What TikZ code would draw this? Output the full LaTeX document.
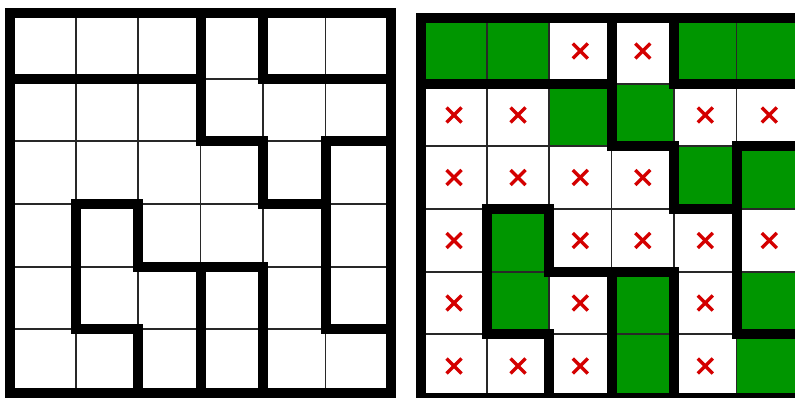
\documentclass[tikz,border=0pt]{standalone}
\usetikzlibrary{calc}
\definecolor{cellgreen}{RGB}{0,150,0}
\definecolor{xred}{RGB}{212,0,0}
\definecolor{thinline}{RGB}{40,40,40}
\tikzset{
  wall/.style={line width=10pt, black, line cap=rect, line join=miter},
  border/.style={line width=10pt, black, line join=miter},
  thin/.style={line width=1.6pt, thinline},
  greencell/.style={fill=cellgreen},
  xmark/.style={line width=3.3pt, xred}
}
\begin{document}
\begin{tikzpicture}[x=1pt,y=-1pt]
\useasboundingbox (0,0) rectangle (795,398);
\clip (0,0) rectangle (795,398);
\fill[white] (0,0) rectangle (795,398);
% grid coordinates
\foreach \i/\a in {0/0,1/66,2/128,3/190.5,4/253,5/315.5,6/381}{
  \foreach \j/\b in {0/0,1/66,2/128,3/191,4/254,5/316,6/380}{
    \coordinate (L-\i-\j) at (10+\a,13+\b);
    \coordinate (R-\i-\j) at (421+\a,18+\b);
  }
}
% green cells
\foreach \c/\r [evaluate=\c as \cc using int(\c+1), evaluate=\r as \rr using int(\r+1)] in
  {0/0,1/0,4/0,5/0,2/1,3/1,4/2,5/2,1/3,1/4,3/4,5/4,3/5,5/5}{
  \fill[greencell] (R-\c-\r) rectangle (R-\cc-\rr);
}
% thin grid lines
\foreach \g in {L,R}{
  \foreach \k in {1,...,5}{
    \draw[thin] (\g-\k-0) -- (\g-\k-6);
    \draw[thin] (\g-0-\k) -- (\g-6-\k);
  }
}
% red crosses
\foreach \c/\r [evaluate=\c as \cc using int(\c+1), evaluate=\r as \rr using int(\r+1)] in
  {2/0,3/0,0/1,1/1,4/1,5/1,0/2,1/2,2/2,3/2,0/3,2/3,3/3,4/3,5/3,0/4,2/4,4/4,0/5,1/5,2/5,4/5}{
  \coordinate (m) at ($(R-\c-\r)!0.5!(R-\cc-\rr)$);
  \draw[xmark] ($(m)+(-7.5,-7.5)$) -- ($(m)+(7.5,7.5)$);
  \draw[xmark] ($(m)+(-7.5,7.5)$) -- ($(m)+(7.5,-7.5)$);
}
% thick walls
\foreach \g in {L,R}{
  \draw[wall] (\g-0-1) -- (\g-3-1);
  \draw[wall] (\g-4-1) -- (\g-6-1);
  \draw[wall] (\g-4-0) -- (\g-4-1);
  \draw[wall] (\g-3-0) -- (\g-3-2) -- (\g-4-2) -- (\g-4-3) -- (\g-5-3);
  \draw[wall] (\g-6-2) -- (\g-5-2) -- (\g-5-5) -- (\g-6-5);
  \draw[wall] (\g-1-5) -- (\g-1-3) -- (\g-2-3) -- (\g-2-4) -- (\g-4-4);
  \draw[wall] (\g-3-4) -- (\g-3-6);
  \draw[wall] (\g-4-4) -- (\g-4-6);
  \draw[wall] (\g-1-5) -- (\g-2-5) -- (\g-2-6);
  \draw[border] (\g-0-0) rectangle (\g-6-6);
}
\end{tikzpicture}
\end{document}
